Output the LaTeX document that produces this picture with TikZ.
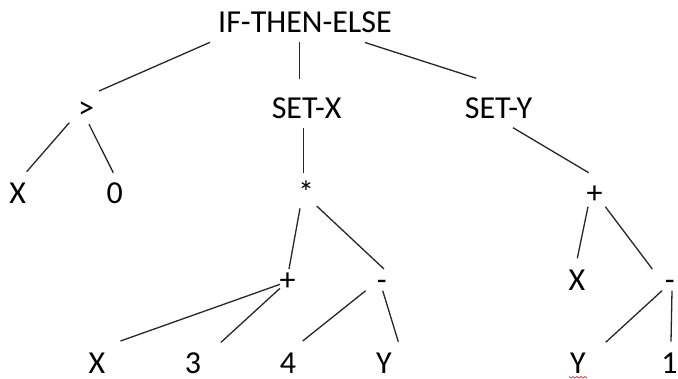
\documentclass[tikz,border=0pt]{standalone}
\usepackage{fontspec}
\setmainfont{Carlito}
\begin{document}
\begin{tikzpicture}[x=1pt,y=-1pt,
  lbl/.style={anchor=base,inner sep=0pt,outer sep=0pt,text depth=0pt,font=\fontsize{32}{38}\selectfont,text=black},
  edge/.style={draw=black!85,line width=1.3pt}]
\useasboundingbox (0,0) rectangle (678,378);
% nodes
\node[lbl] (if)    at (305,32.3)  {IF-THEN-ELSE};
\node[lbl] (gt)    at (86,118.3)  {>};
\node[lbl] (setx)  at (306.7,118.3) {SET-X};
\node[lbl] (sety)  at (498.5,118.3) {SET-Y};
\node[lbl] (x1)    at (17.7,203)  {X};
\node[lbl] (z0)    at (114.7,203) {0};
\node[lbl] (star)  at (306,203)   {*};
\node[lbl] (plusr) at (594.7,203) {+};
\node[lbl] (plusm) at (287.5,290) {+};
\node[lbl] (minm)  at (381.7,290) {-};
\node[lbl] (xr)    at (577,290)   {X};
\node[lbl] (minr)  at (669.7,290) {-};
\node[lbl] (x2)    at (97,373.5)  {X};
\node[lbl] (n3)    at (193,373.5) {3};
\node[lbl] (n4)    at (288,373.5) {4};
\node[lbl] (y1)    at (384,373.5) {Y};
\node[lbl] (y2)    at (578,373.5) {Y};
\node[lbl] (n1)    at (669.5,373.5) {1};
% connectors
\draw[edge] ([shift={(-95,10)}]if.base) -- ([shift={(13,-27.3)}]gt.base);
\draw[edge] ([shift={(-5.7,9.4)}]if.base) -- ([shift={(-7.4,-39)}]setx.base);
\draw[edge] ([shift={(60,10.2)}]if.base) -- ([shift={(-22.2,-40)}]sety.base);
\draw[edge] ([shift={(-16.7,4.4)}]gt.base) -- ([shift={(9,-31.3)}]x1.base);
\draw[edge] ([shift={(3,6)}]gt.base) -- ([shift={(-1.4,-30.3)}]z0.base);
\draw[edge] ([shift={(-3.4,10)}]setx.base) -- ([shift={(-2.7,-29.7)}]star.base);
\draw[edge] ([shift={(14.5,9.4)}]sety.base) -- ([shift={(-6,-30.3)}]plusr.base);
\draw[edge] ([shift={(-6,5.3)}]star.base) -- ([shift={(1.5,-21)}]plusm.base);
\draw[edge] ([shift={(10.7,3)}]star.base) -- ([shift={(2.3,-21)}]minm.base);
\draw[edge] ([shift={(-7.5,-5.7)}]plusm.base) -- ([shift={(23.5,-32.5)}]x2.base);
\draw[edge] ([shift={(-7.5,-1.7)}]plusm.base) -- ([shift={(28,-31.2)}]n3.base);
\draw[edge] ([shift={(-16,0.7)}]minm.base) -- ([shift={(14.7,-32.5)}]n4.base);
\draw[edge] ([shift={(1,0.7)}]minm.base) -- ([shift={(14.3,-31.8)}]y1.base);
\draw[edge] ([shift={(-6.7,3.7)}]plusr.base) -- ([shift={(0.3,-31.7)}]xr.base);
\draw[edge] ([shift={(10.6,3.7)}]plusr.base) -- ([shift={(-17.4,-21)}]minr.base);
\draw[edge] ([shift={(-7.7,0.7)}]minr.base) -- ([shift={(27.7,-31.2)}]y2.base);
\draw[edge] ([shift={(2.3,0.7)}]minr.base) -- ([shift={(1.5,-31.8)}]n1.base);
% spell-check mark under Y
\draw[red!80,line width=0.8pt] ([shift={(-9,3)}]y2.base)
  -- ++(2,1.5) -- ++(2,-1.5) -- ++(2,1.5) -- ++(2,-1.5) -- ++(2,1.5) -- ++(2,-1.5) -- ++(2,1.5) -- ++(2,-1.5) -- ++(2,1.5);
\end{tikzpicture}
\end{document}
